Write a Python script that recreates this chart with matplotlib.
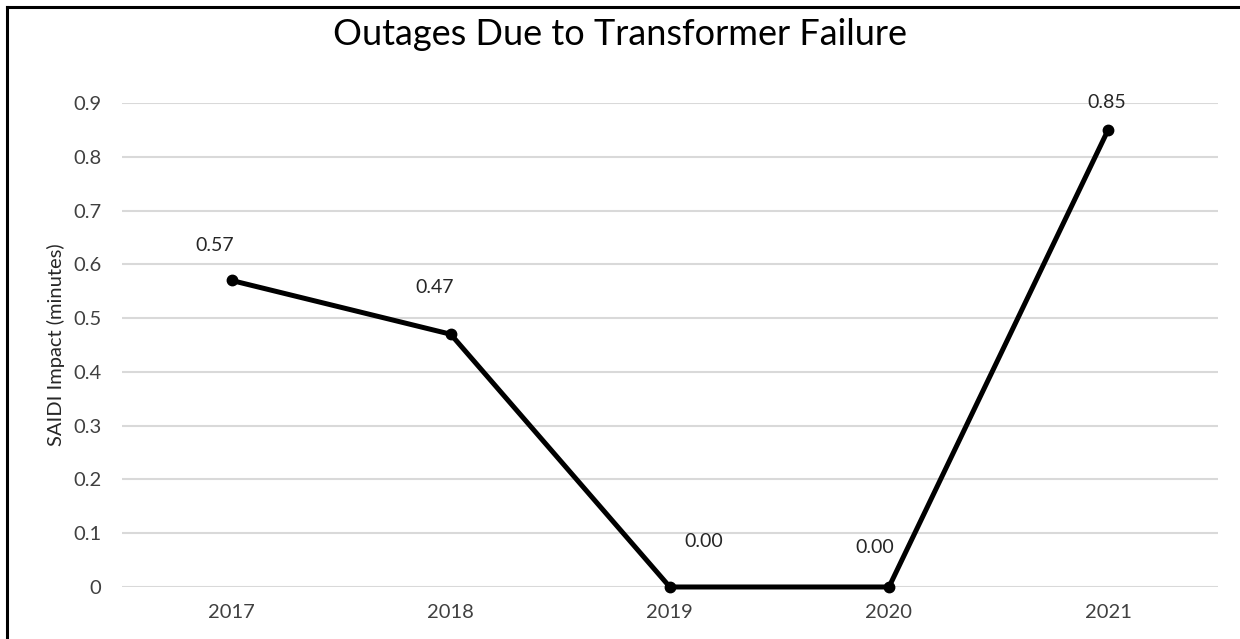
import matplotlib.pyplot as plt
from matplotlib.lines import Line2D

# data
years = ["2017", "2018", "2019", "2020", "2021"]
saidi = [0.57, 0.47, 0.00, 0.00, 0.85]
yticks = [0, 0.1, 0.2, 0.3, 0.4, 0.5, 0.6, 0.7, 0.8, 0.9]
ytick_labels = ["0", "0.1", "0.2", "0.3", "0.4", "0.5", "0.6", "0.7", "0.8", "0.9"]

# label offsets (pixels) to mimic excel placement
label_offsets = [(-17, 35), (-16, 47), (34, 45), (-14, 39), (-1, 27)]

plt.rcParams['font.family'] = ['Lato', 'DejaVu Sans']

fig = plt.figure(figsize=(12.4, 6.39), dpi=100)
ax = fig.add_axes([0.0984, 0.0814, 0.8836, 0.7574])

x = list(range(len(years)))
ax.plot(x, saidi, color='black', linewidth=3.6, marker='o', markersize=7.5,
        solid_capstyle='round', zorder=3, clip_on=False)

for i, v in enumerate(saidi):
    dx, dy = label_offsets[i]
    ax.annotate(f"{v:.2f}", (x[i], v), xytext=(dx, dy), textcoords='offset pixels',
                ha='center', va='center', fontsize=14, color='#262626')

ax.set_xlim(-0.5, len(years) - 0.5)
ax.set_ylim(0, 0.9)
ax.set_xticks(x)
ax.set_xticklabels(years)
ax.set_yticks(yticks)
ax.set_yticklabels(ytick_labels)
ax.tick_params(axis='both', length=0, labelsize=14.5, labelcolor='#404040')
ax.tick_params(axis='x', pad=12)
ax.tick_params(axis='y', pad=15)

ax.grid(axis='y', color='#d9d9d9', linewidth=1.5)
ax.set_axisbelow(True)
for s in ax.spines.values():
    s.set_visible(False)

ax.set_ylabel("SAIDI Impact (minutes)", fontsize=14.5, color='#262626', labelpad=6)

fig.text(0.5, 0.946, "Outages Due to Transformer Failure", ha='center', va='center',
         fontsize=26, color='black')

# chart border (left and top visible in the crop)
fig.add_artist(Line2D([0.0056, 0.0056], [0, 0.989], transform=fig.transFigure,
                      color='black', linewidth=2.2))
fig.add_artist(Line2D([0.0056, 1.0], [0.989, 0.989], transform=fig.transFigure,
                      color='black', linewidth=2.2))

fig.savefig("out.png", dpi=100)
